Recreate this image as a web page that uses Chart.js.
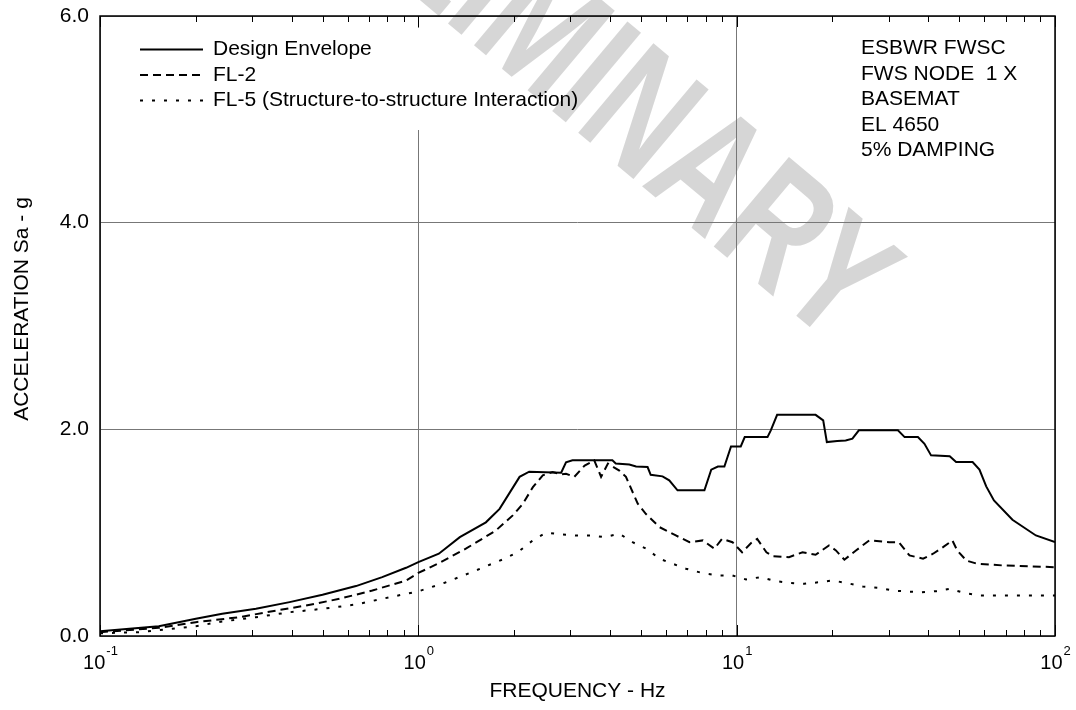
<!DOCTYPE html>
<html>
<head>
<meta charset="utf-8">
<script src="https://cdn.jsdelivr.net/npm/chart.js@4/dist/chart.umd.min.js"></script>
<style>
  html, body { margin: 0; padding: 0; background: #fff; }
</style>
</head>
<body>
<canvas id="spectrumChart" width="1076" height="710"></canvas>
<script>
// Response spectrum - ESBWR FWSC, node 1 X, basemat
// =====================================================

// Design Envelope
const designFreq = [0.1, 0.153, 0.2, 0.242, 0.309, 0.394, 0.5, 0.637, 0.77, 0.915, 1.0, 1.16, 1.35, 1.63, 1.80, 2.08, 2.23, 2.81, 2.91, 3.05, 4.07, 4.17, 4.60, 4.83, 5.25, 5.37, 5.85, 6.14, 6.52, 7.92, 8.32, 8.73, 9.15, 9.6, 10.3, 10.6, 12.5, 12.8, 13.4, 17.7, 18.7, 19.2, 20.7, 22.0, 23.1, 24.2, 32.1, 33.7, 37.1, 38.9, 40.8, 46.7, 48.9, 55.1, 57.9, 60.8, 64.3, 73.5, 87.1, 100];
const designAcc = [0.046, 0.095, 0.166, 0.215, 0.263, 0.328, 0.399, 0.483, 0.57, 0.66, 0.715, 0.796, 0.957, 1.10, 1.23, 1.54, 1.59, 1.58, 1.68, 1.70, 1.70, 1.67, 1.66, 1.64, 1.635, 1.56, 1.545, 1.506, 1.41, 1.41, 1.61, 1.64, 1.64, 1.835, 1.835, 1.925, 1.925, 1.99, 2.14, 2.14, 2.087, 1.877, 1.887, 1.893, 1.91, 1.99, 1.99, 1.925, 1.925, 1.86, 1.748, 1.74, 1.683, 1.683, 1.61, 1.448, 1.312, 1.125, 0.973, 0.908];

// FL-2
const fl2Freq = [0.1, 0.153, 0.2, 0.274, 0.348, 0.444, 0.565, 0.717, 0.915, 1.0, 1.16, 1.41, 1.75, 1.98, 2.13, 2.29, 2.46, 2.64, 2.81, 2.91, 3.09, 3.33, 3.57, 3.75, 3.94, 4.28, 4.49, 4.89, 5.19, 5.72, 6.44, 7.11, 7.83, 8.51, 9.0, 9.7, 10.4, 11.1, 11.6, 12.4, 13.0, 14.6, 16.1, 17.7, 19.5, 20.5, 21.8, 23.7, 26.1, 30.1, 32.3, 34.9, 38.5, 41.4, 44.5, 47.6, 49.3, 52.7, 56.8, 68.4, 100];
const fl2Acc = [0.037, 0.079, 0.134, 0.182, 0.24, 0.295, 0.36, 0.44, 0.537, 0.61, 0.705, 0.845, 1.02, 1.167, 1.28, 1.44, 1.555, 1.587, 1.564, 1.57, 1.54, 1.65, 1.70, 1.54, 1.668, 1.60, 1.54, 1.28, 1.18, 1.054, 0.973, 0.908, 0.925, 0.845, 0.94, 0.908, 0.81, 0.90, 0.94, 0.81, 0.773, 0.763, 0.81, 0.786, 0.876, 0.828, 0.738, 0.828, 0.925, 0.908, 0.908, 0.78, 0.748, 0.796, 0.86, 0.925, 0.828, 0.73, 0.70, 0.683, 0.666];

// FL-5 (Structure-to-structure Interaction)
const fl5Freq = [0.1, 0.133, 0.161, 0.2, 0.242, 0.309, 0.394, 0.5, 0.637, 0.77, 1.0, 1.21, 1.50, 1.84, 2.05, 2.29, 2.52, 2.81, 3.12, 3.49, 3.84, 4.28, 4.71, 5.25, 5.72, 6.22, 6.93, 7.83, 8.73, 9.7, 10.7, 11.9, 13.3, 14.6, 16.3, 18.2, 20.0, 22.3, 24.9, 27.8, 31.0, 34.1, 38.1, 42.4, 46.7, 52.1, 57.9, 100];
const fl5Acc = [0.027, 0.037, 0.063, 0.095, 0.14, 0.182, 0.23, 0.263, 0.305, 0.36, 0.432, 0.515, 0.628, 0.741, 0.81, 0.925, 1.0, 0.983, 0.973, 0.973, 0.957, 0.99, 0.908, 0.838, 0.748, 0.705, 0.651, 0.608, 0.586, 0.586, 0.547, 0.57, 0.53, 0.515, 0.505, 0.521, 0.537, 0.511, 0.479, 0.467, 0.44, 0.431, 0.424, 0.434, 0.457, 0.415, 0.392, 0.392];

// Axis ticks
const xDecades = [0.1, 1, 10, 100];
const xExponents = ['-1', '0', '1', '2'];
const xMinorFactors = [2, 3, 4, 5, 6, 7, 8, 9];
const yTicks = [0, 2, 4, 6];

const seriesLabels = ['Design Envelope', 'FL-2', 'FL-5 (Structure-to-structure Interaction)'];
const seriesDash = [[], [8, 5], [3, 9]];
const noteLines = ['ESBWR FWSC', 'FWS NODE  1 X', 'BASEMAT', 'EL 4650', '5% DAMPING'];

const FONT = "'Liberation Sans', Arial, sans-serif";

function toPoints(xs, ys) {
  return xs.map((x, i) => ({ x: x, y: ys[i] }));
}

// Everything drawn around the plot area (frame, ticks, labels, legend, notes)
const decorPlugin = {
  id: 'decor',
  beforeDraw(chart) {
    const ctx = chart.ctx;
    ctx.save();
    ctx.fillStyle = '#fff';
    ctx.fillRect(0, 0, chart.width, chart.height);
    ctx.restore();
  },
  afterDraw(chart) {
    const ctx = chart.ctx;
    const area = chart.chartArea;
    const xs = chart.scales.x;
    const ys = chart.scales.y;
    ctx.save();

    // legend background hides the grid behind it
    ctx.fillStyle = '#fff';
    ctx.fillRect(area.left + 2, area.top + 12, 500, 114 - 12);

    // watermark, darkened onto what is already drawn
    ctx.save();
    ctx.globalCompositeOperation = 'darken';
    ctx.font = 'bold 170px ' + FONT;
    ctx.fillStyle = '#d6d6d6';
    ctx.textBaseline = 'middle';
    ctx.textAlign = 'left';
    ctx.translate(636, 120);
    ctx.rotate(40 * Math.PI / 180);
    ctx.scale(0.72, 1);
    const off = ctx.measureText('PRELIMI').width + ctx.measureText('N').width / 2;
    ctx.fillText('PRELIMINARY', -off, 0);
    ctx.restore();

    // frame
    ctx.strokeStyle = '#000';
    ctx.lineWidth = 1.5;
    ctx.strokeRect(area.left, area.top, area.right - area.left, area.bottom - area.top);

    // x ticks, bottom and top
    ctx.lineWidth = 1;
    ctx.beginPath();
    xDecades.forEach((d, i) => {
      const px = Math.round(xs.getPixelForValue(d)) + 0.5;
      ctx.moveTo(px, area.bottom); ctx.lineTo(px, area.bottom - 11);
      ctx.moveTo(px, area.top); ctx.lineTo(px, area.top + 11);
      if (i < xDecades.length - 1) {
        xMinorFactors.forEach(f => {
          const mx = Math.round(xs.getPixelForValue(d * f)) + 0.5;
          ctx.moveTo(mx, area.bottom); ctx.lineTo(mx, area.bottom - 6);
          ctx.moveTo(mx, area.top); ctx.lineTo(mx, area.top + 6);
        });
      }
    });
    ctx.stroke();

    // x tick labels 10^n
    ctx.fillStyle = '#000';
    ctx.textBaseline = 'alphabetic';
    ctx.textAlign = 'left';
    xDecades.forEach((d, i) => {
      const px = xs.getPixelForValue(d);
      ctx.font = '20px ' + FONT;
      const wBase = ctx.measureText('10').width;
      ctx.font = '13px ' + FONT;
      const wExp = ctx.measureText(xExponents[i]).width;
      const x0 = px - (wBase + wExp) / 2;
      ctx.font = '20px ' + FONT;
      ctx.fillText('10', x0, 669);
      ctx.font = '13px ' + FONT;
      ctx.fillText(xExponents[i], x0 + wBase + 1, 655);
    });

    // y tick labels
    ctx.font = '21px ' + FONT;
    ctx.textAlign = 'right';
    ctx.textBaseline = 'middle';
    yTicks.forEach(v => {
      ctx.fillText(v.toFixed(1), 89, ys.getPixelForValue(v));
    });

    // axis titles
    ctx.textAlign = 'center';
    ctx.fillText('FREQUENCY - Hz', (area.left + area.right) / 2, 691);
    ctx.save();
    ctx.translate(22, 309);
    ctx.rotate(-Math.PI / 2);
    ctx.fillText('ACCELERATION Sa - g', 0, 0);
    ctx.restore();

    // legend
    ctx.textAlign = 'left';
    ctx.lineWidth = 2;
    seriesLabels.forEach((label, i) => {
      const y = 49.5 + i * 25.5;
      ctx.setLineDash(seriesDash[i]);
      ctx.beginPath();
      ctx.moveTo(140, y);
      ctx.lineTo(203, y);
      ctx.stroke();
      ctx.setLineDash([]);
      ctx.fillText(label, 213, y);
    });

    // notes top-right
    noteLines.forEach((t, i) => {
      ctx.fillText(t, 861, 48.5 + i * 25.5);
    });

    ctx.restore();
  }
};

const ctx = document.getElementById('spectrumChart');

new Chart(ctx, {
  type: 'line',
  data: {
    datasets: [
      {
        label: seriesLabels[0],
        data: toPoints(designFreq, designAcc),
        borderColor: '#000',
        borderWidth: 2,
        borderDash: seriesDash[0]
      },
      {
        label: seriesLabels[1],
        data: toPoints(fl2Freq, fl2Acc),
        borderColor: '#000',
        borderWidth: 2,
        borderDash: seriesDash[1]
      },
      {
        label: seriesLabels[2],
        data: toPoints(fl5Freq, fl5Acc),
        borderColor: '#000',
        borderWidth: 2,
        borderDash: seriesDash[2]
      }
    ]
  },
  options: {
    responsive: false,
    animation: false,
    devicePixelRatio: 1,
    layout: {
      padding: { left: 100, right: 21, top: 16, bottom: 74 }
    },
    elements: {
      point: { radius: 0 },
      line: { tension: 0, fill: false }
    },
    plugins: {
      legend: { display: false },
      tooltip: { enabled: false }
    },
    scales: {
      x: {
        type: 'logarithmic',
        min: 0.1,
        max: 100,
        afterBuildTicks: scale => {
          scale.ticks = xDecades.map(v => ({ value: v }));
        },
        ticks: { display: false },
        border: { display: false },
        grid: { color: '#777', lineWidth: 1, drawTicks: false }
      },
      y: {
        min: 0,
        max: 6,
        afterBuildTicks: scale => {
          scale.ticks = yTicks.map(v => ({ value: v }));
        },
        ticks: { display: false },
        border: { display: false },
        grid: { color: '#777', lineWidth: 1, drawTicks: false }
      }
    }
  },
  plugins: [decorPlugin]
});
</script>
</body>
</html>
